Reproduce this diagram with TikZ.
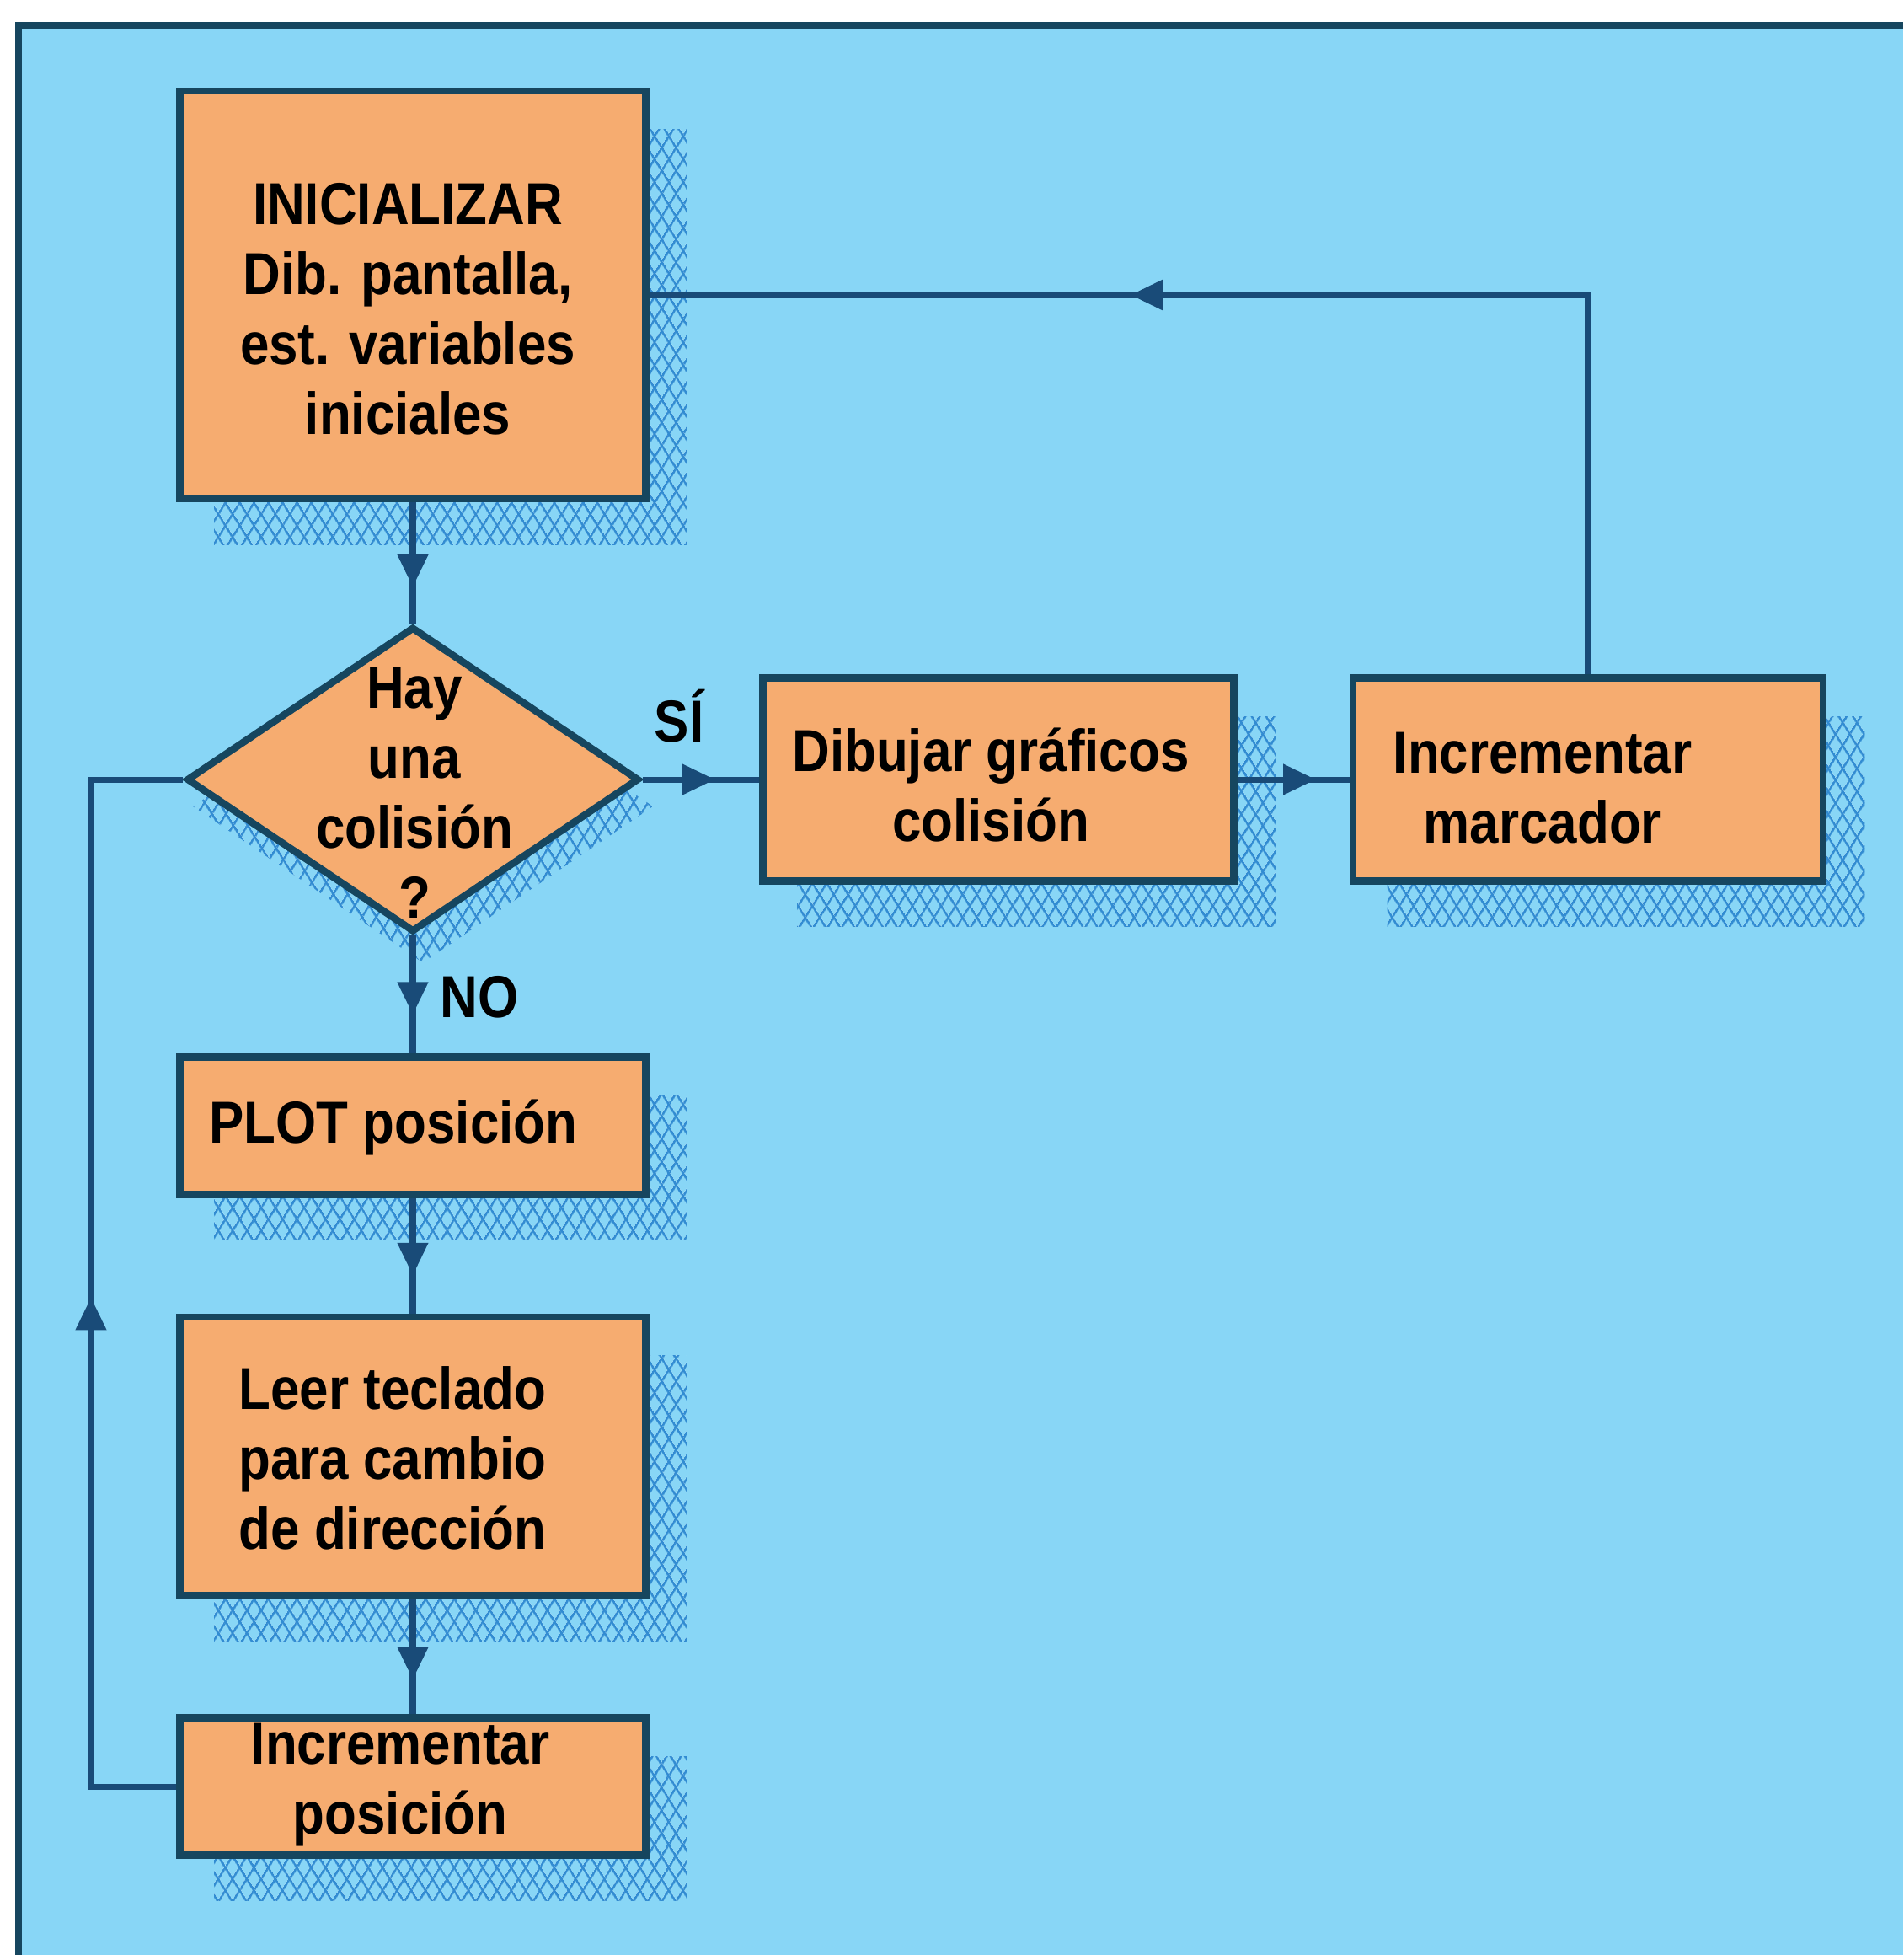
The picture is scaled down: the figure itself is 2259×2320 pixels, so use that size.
\documentclass[tikz,border=0pt]{standalone}
\usepackage{fontspec}
\setmainfont{Liberation Sans}[FakeStretch=0.88]
\usetikzlibrary{shapes.geometric,arrows.meta,decorations.markings,patterns.meta,calc}
\definecolor{bgblue}{RGB}{136,214,246}
\definecolor{boxfill}{RGB}{246,172,112}
\definecolor{edgecol}{RGB}{22,70,95}
\definecolor{conncol}{RGB}{25,75,120}
\definecolor{hatchcol}{RGB}{50,140,210}
\pgfdeclarelayer{bglayer}
\pgfdeclarelayer{shadowlayer}
\pgfsetlayers{bglayer,shadowlayer,main}
\tikzset{
  stepbox/.style={draw=edgecol, line width=2.4pt, fill=boxfill, rectangle, inner sep=0pt},
  lbl/.style={font=\fontsize{20}{23.6}\selectfont\bfseries, align=center, inner sep=0pt, text=black},
  link/.style={draw=conncol, line width=2pt},
  midarrow/.style={postaction={decorate}, decoration={markings, mark=at position #1 with {\arrow[color=conncol]{Triangle[width=10pt,length=11pt]}}}},
  hatchA/.style={pattern={Lines[angle=58,distance=4pt,line width=0.8pt]}, pattern color=hatchcol},
  hatchB/.style={pattern={Lines[angle=-58,distance=4pt,line width=0.8pt]}, pattern color=hatchcol},
}
\newcommand\shadowof[1]{%
  \path[hatchA] ($(#1.north west)+(45,50)$) rectangle ($(#1.south east)+(45,50)$);
  \path[hatchB] ($(#1.north west)+(45,50)$) rectangle ($(#1.south east)+(45,50)$);}
\begin{document}
\begin{tikzpicture}[x=0.01cm,y=-0.01cm]
\useasboundingbox (0,0) rectangle (2259,2320);
\begin{pgfonlayer}{bglayer}
  \fill[white] (0,0) rectangle (2259,2320);
  \fill[bgblue] (22,30) rectangle (2259,2320);
  \draw[edgecol, line width=2.2pt] (22,2320) -- (22,30) -- (2259,30);
\end{pgfonlayer}

% boxes
\node[stepbox, minimum width=5.53cm, minimum height=4.84cm] (init) at (490,350) {};
\node[stepbox, shape=diamond, minimum width=5.37cm, minimum height=3.62cm] (dia) at (490,925) {};
\node[stepbox, minimum width=5.59cm, minimum height=2.41cm] (dib) at (1185,925) {};
\node[stepbox, minimum width=5.58cm, minimum height=2.41cm] (marc) at (1885,925) {};
\node[stepbox, minimum width=5.53cm, minimum height=1.63cm] (plot) at (490,1336) {};
\node[stepbox, minimum width=5.53cm, minimum height=3.30cm] (leer) at (490,1728) {};
\node[stepbox, minimum width=5.53cm, minimum height=1.63cm] (incp) at (490,2120) {};

% shadows
\begin{pgfonlayer}{shadowlayer}
  \shadowof{init}
  \shadowof{dib}
  \shadowof{marc}
  \shadowof{plot}
  \shadowof{leer}
  \shadowof{incp}
  \path[hatchA] ($(dia.north)+(12,32)$) -- ($(dia.east)+(12,32)$) -- ($(dia.south)+(12,32)$) -- ($(dia.west)+(12,32)$) -- cycle;
  \path[hatchB] ($(dia.north)+(12,32)$) -- ($(dia.east)+(12,32)$) -- ($(dia.south)+(12,32)$) -- ($(dia.west)+(12,32)$) -- cycle;
\end{pgfonlayer}

% texts
\node[lbl] (tinit) at (484,367) {INICIALIZAR\\Dib. pantalla,\\est. variables\\iniciales};
\node[lbl] (tdia) at (492,941) {Hay\\una\\colisión\\?};
\node[lbl] (tdib) at (1176,932) {Dibujar gráficos\\colisión};
\node[lbl] (tmarc) at (1831,935) {Incrementar\\marcador};
\node[lbl] (tplot) at (467,1338) {PLOT posición};
\node[lbl] (tleer) at (466,1730) {Leer teclado\\para cambio\\de dirección};
\node[lbl] (tincp) at (475,2118) {Incrementar\\posición};
\node[lbl] (si) at (806,850) {SÍ};
\node[lbl] (no) at (569,1183) {NO};

% connectors
\coordinate (lp) at (108,1000);
\draw[link, midarrow=0.7] (init.south) -- (dia.north);
\draw[link, midarrow=0.62] (dia.east) -- (dib.west);
\draw[link, midarrow=0.7] (dib.east) -- (marc.west);
\draw[link, midarrow=0.635] (marc.north) |- (init.east);
\draw[link, midarrow=0.67] (dia.south) -- (plot.north);
\draw[link, midarrow=0.67] (plot.south) -- (leer.north);
\draw[link, midarrow=0.7] (leer.south) -- (incp.north);
\draw[link, midarrow=0.485] (incp.west) -- (incp.west -| lp) -- (dia.west -| lp) -- (dia.west);
\end{tikzpicture}
\end{document}
